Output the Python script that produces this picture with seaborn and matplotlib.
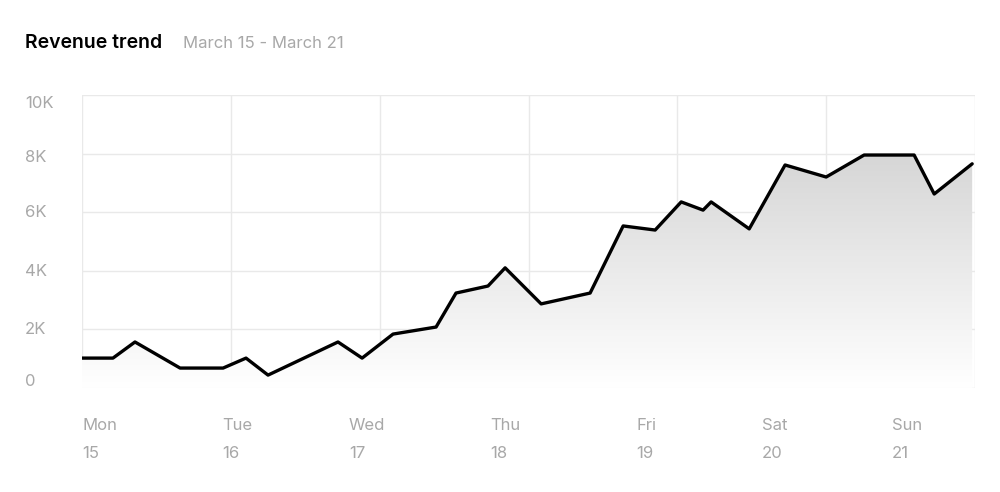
import matplotlib
matplotlib.use("Agg")
import matplotlib.pyplot as plt
import seaborn as sns
import numpy as np
import pandas as pd

days = [0, 0.208, 0.356, 0.659, 0.948, 1.102, 1.250, 1.720, 1.882, 2.090, 2.379, 2.513, 2.728, 2.843,
        3.085, 3.414, 3.636, 3.851, 4.026, 4.173, 4.227, 4.483, 4.724, 5.0, 5.255, 5.591, 5.726, 5.981]
revenue = [1020, 1020, 1570, 680, 680, 1020, 440, 1570, 1020, 1840, 2080, 3240, 3480, 4100,
           2870, 3240, 5530, 5390, 6350, 6070, 6350, 5430, 7610, 7200, 7950, 7950, 6620, 7650]
day_names = ["Mon", "Tue", "Wed", "Thu", "Fri", "Sat", "Sun"]
day_nums = ["15", "16", "17", "18", "19", "20", "21"]
ytick_labels = ["0", "2K", "4K", "6K", "8K", "10K"]
yticks = [0, 2000, 4000, 6000, 8000, 10000]

sns.set_style("white")
plt.rcParams['font.family'] = ['Inter', 'DejaVu Sans']
df = pd.DataFrame({"day": days, "revenue": revenue})

fig = plt.figure(figsize=(10, 4.92), dpi=100)
ax = fig.add_axes([0.082, 0.2114, 0.893, 0.5956])
ax.set_xlim(0, 6)
ax.set_ylim(0, 10000)
ax.set_xticks(np.arange(0, 7) * 6 / 6.0 * (6 / 6))
ax.set_xticks(np.linspace(0, 6, 7))
ax.set_yticks(yticks)
ax.grid(True, color="#e9e9e9", lw=1)
for s in ax.spines.values():
    s.set_visible(False)
ax.tick_params(length=0, labelleft=False, labelbottom=False)

poly = ax.fill_between(df.day, df.revenue, 0, color="none")
grad = np.linspace(0, 1, 256).reshape(-1, 1)
im = ax.imshow(grad, extent=[0, 6, 0, 8000], origin="lower", cmap=matplotlib.colors.LinearSegmentedColormap.from_list("g", ["#ffffff", "#d6d6d6"]), aspect="auto", zorder=1)
im.set_clip_path(poly.get_paths()[0], transform=ax.transData)
ax.set_xlim(0, 6)
ax.set_ylim(0, 10000)
sns.lineplot(data=df, x="day", y="revenue", ax=ax, color="black", lw=2.4, zorder=3)
ax.set_xlabel("")
ax.set_ylabel("")

gray = "#a8a8a8"
ylab_pos = [381, 329, 271, 213, 158, 103]
for lab, yp in zip(ytick_labels, ylab_pos):
    fig.text(25 / 1000, 1 - yp / 492, lab, color=gray, fontsize=12, ha="left", va="center")
xlab_pos = [82, 222, 349, 490, 636, 762, 892]
for n, d, xp in zip(day_names, day_nums, xlab_pos):
    fig.text(xp / 1000, 1 - 426 / 492, n, color=gray, fontsize=12, ha="left", va="center")
    fig.text(xp / 1000, 1 - 454 / 492, d, color=gray, fontsize=12, ha="left", va="center")

fig.text(25 / 1000, 1 - 43 / 492, "Revenue trend", fontsize=14, fontweight="semibold", color="black", va="center")
fig.text(183 / 1000, 1 - 43 / 492, "March 15 - March 21", fontsize=12, color=gray, va="center")
fig.savefig("out.png", dpi=100, facecolor="white")
